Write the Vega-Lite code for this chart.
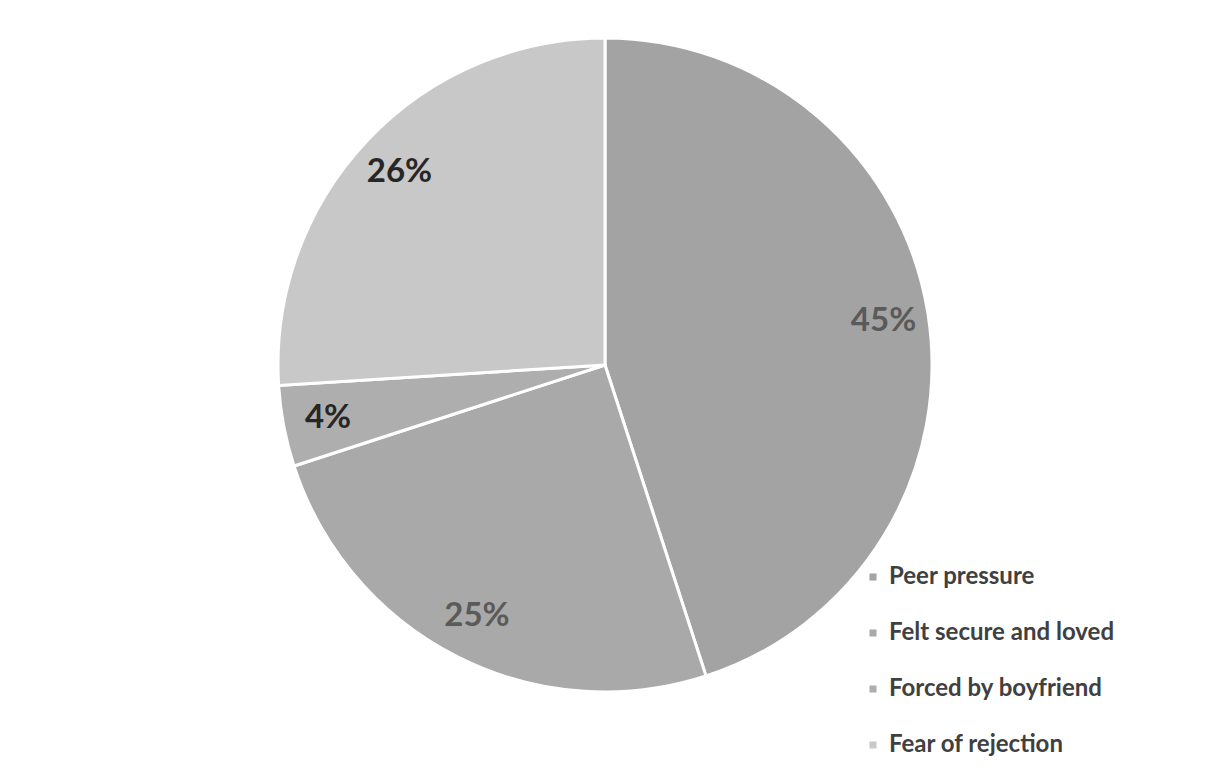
{
  "$schema": "https://vega.github.io/schema/vega-lite/v6.json",
  "width": 1210,
  "height": 730,
  "autosize": "none",
  "padding": {"top": 0, "left": 0, "right": 14, "bottom": 41},
  "background": "white",
  "data": {
    "values": [
      {"category": "Peer pressure", "value": 45, "label": "45%", "idx": 1},
      {"category": "Felt secure and loved", "value": 25, "label": "25%", "idx": 2},
      {"category": "Forced by boyfriend", "value": 4, "label": "4%", "idx": 3},
      {"category": "Fear of rejection", "value": 26, "label": "26%", "idx": 4}
    ]
  },
  "encoding": {
    "theta": {"field": "value", "type": "quantitative", "stack": true},
    "order": {"field": "idx", "type": "quantitative"},
    "color": {
      "field": "category",
      "type": "nominal",
      "scale": {
        "domain": ["Peer pressure", "Felt secure and loved", "Forced by boyfriend", "Fear of rejection"],
        "range": ["#a3a3a3", "#a9a9a9", "#aeaeae", "#c8c8c8"]
      },
      "legend": {
        "orient": "none",
        "legendX": 861,
        "legendY": 565,
        "title": null,
        "symbolType": "square",
        "symbolSize": 50,
        "symbolStrokeWidth": 0,
        "labelFont": "Lato",
        "labelFontWeight": "bold",
        "labelFontSize": 24,
        "labelColor": "#404040",
        "labelOffset": 4,
        "rowPadding": 32,
        "labelLimit": 400
      }
    }
  },
  "layer": [
    {
      "mark": {"type": "arc", "outerRadius": 327, "stroke": "white", "strokeWidth": 3}
    },
    {
      "mark": {"type": "text", "radius": 282, "font": "Lato", "fontWeight": "bold", "fontSize": 33},
      "encoding": {
        "text": {"field": "label"},
        "color": {
          "condition": {"test": "datum.category === 'Forced by boyfriend' || datum.category === 'Fear of rejection'", "value": "#262626"},
          "value": "#5a5a5a"
        }
      }
    }
  ],
  "config": {"view": {"stroke": null}}
}
